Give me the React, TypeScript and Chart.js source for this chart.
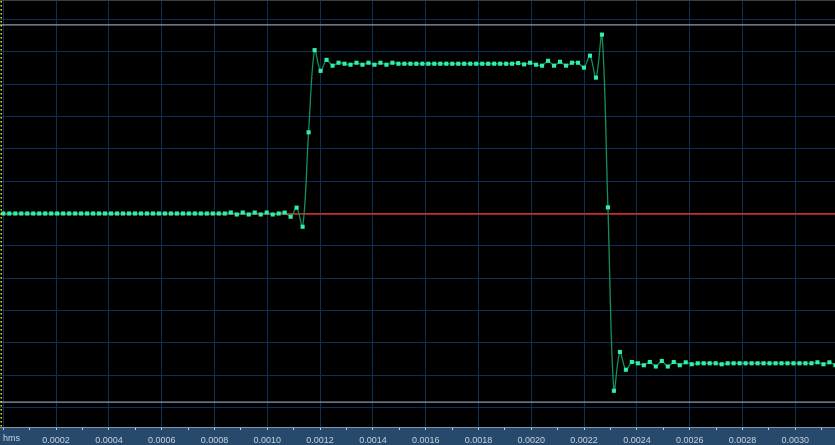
import { useEffect, useRef } from 'react';
import { Chart, registerables } from 'chart.js';

Chart.register(...registerables);

// Audio samples (44.1 kHz), amplitude in grid divisions
const SAMPLE_RATE = 44100;
const samples: number[] = [
  0, 0, 0, 0, 0, 0, 0, 0, 0, 0,
  0, 0, 0, 0, 0, 0, 0, 0, 0, 0,
  0, 0, 0, 0, 0, 0, 0, 0, 0, 0,
  0, 0, 0, 0, 0, 0, 0, 0,
  0.03, -0.03, 0.03, -0.03, 0.03, -0.03, 0.03, -0.03, 0, 0.03,
  -0.10, 0.18, -0.41, 2.51, 5.05, 4.41, 4.75, 4.57, 4.66, 4.63,
  4.60, 4.66, 4.60, 4.66, 4.60, 4.66, 4.60, 4.66,
  4.63, 4.63, 4.63, 4.63, 4.63, 4.63, 4.63, 4.63, 4.63, 4.63,
  4.63, 4.63, 4.63, 4.63, 4.63, 4.63, 4.63, 4.63, 4.63, 4.63,
  4.65, 4.61, 4.66, 4.60,
  4.57, 4.72, 4.57, 4.69, 4.57, 4.66, 4.66, 4.51, 4.88, 4.20, 5.53, 0.19,
  -5.48, -4.28, -4.83, -4.59, -4.63, -4.69, -4.59, -4.73, -4.56, -4.73, -4.59, -4.69, -4.60, -4.66,
  -4.63, -4.63, -4.63, -4.63,
  -4.66,
  -4.63, -4.63, -4.63, -4.63, -4.63, -4.63, -4.63, -4.63, -4.63, -4.63,
  -4.63, -4.63, -4.63, -4.63, -4.63,
  -4.60, -4.66, -4.60, -4.69,
];

const clipLevels = [5.83, -5.83];
const xMin = -0.0000125;
const xMax = 0.0031504;
const yMin = -6.6;
const yMax = 6.6;
const xTickValues = [
  0, 0.0001, 0.0002, 0.0003, 0.0004, 0.0005, 0.0006, 0.0007, 0.0008, 0.0009,
  0.0010, 0.0011, 0.0012, 0.0013, 0.0014, 0.0015, 0.0016, 0.0017, 0.0018, 0.0019,
  0.0020, 0.0021, 0.0022, 0.0023, 0.0024, 0.0025, 0.0026, 0.0027, 0.0028, 0.0029,
  0.0030, 0.0031,
];
const yGridValues = [-6, -5, -4, -3, -2, -1, 0, 1, 2, 3, 4, 5, 6];
const axisUnitLabel = 'hms';

const GRID = '#0d3154';
const FONT = 'Liberation Sans, Arial, sans-serif';

const isMajor = (v: number) => Math.round(v / 0.0001) % 2 === 0;

const scopePlugin = {
  id: 'scope',
  beforeDraw(chart: any) {
    const { ctx, width, height, chartArea } = chart;
    ctx.save();
    ctx.fillStyle = '#000';
    ctx.fillRect(0, 0, width, height);
    ctx.fillStyle = '#27496b';
    ctx.fillRect(0, chartArea.bottom, width, height - chartArea.bottom);
    ctx.restore();
  },
  afterDraw(chart: any) {
    const { ctx, width, chartArea } = chart;
    ctx.save();
    ctx.fillStyle = '#3e3e3e';
    ctx.fillRect(0, 0, width, 1);
    ctx.strokeStyle = '#e8e800';
    ctx.lineWidth = 1.5;
    ctx.setLineDash([1.5, 2.5]);
    ctx.beginPath();
    ctx.moveTo(1.25, 1);
    ctx.lineTo(1.25, chartArea.bottom);
    ctx.stroke();
    ctx.setLineDash([]);
    ctx.fillStyle = '#c5d3e0';
    ctx.font = `9px ${FONT}`;
    ctx.textAlign = 'left';
    ctx.textBaseline = 'middle';
    ctx.fillText(axisUnitLabel, 3, chartArea.bottom + 12);
    ctx.restore();
  },
};

export default function App() {
  const ref = useRef<HTMLCanvasElement>(null);

  useEffect(() => {
    document.body.style.margin = '0';
    const canvas = ref.current;
    if (!canvas) return;
    const signal = samples.map((y, n) => ({ x: n / SAMPLE_RATE, y }));
    const chart = new Chart(canvas, {
      type: 'line',
      data: {
        datasets: [
          {
            data: signal,
            borderColor: '#139058',
            borderWidth: 1.3,
            tension: 0.35,
            pointStyle: 'rect',
            pointRadius: 2.9,
            pointBorderWidth: 0,
            pointBackgroundColor: '#30efa8',
            pointBorderColor: '#30efa8',
          },
          ...clipLevels.map((lvl) => ({
            data: [
              { x: xMin, y: lvl },
              { x: xMax, y: lvl },
            ],
            borderColor: '#8d9cae',
            borderWidth: 1.4,
            pointRadius: 0,
            tension: 0,
          })),
        ],
      },
      options: {
        responsive: false,
        animation: false,
        devicePixelRatio: 1,
        layout: { padding: 0, autoPadding: false },
        plugins: { legend: { display: false }, tooltip: { enabled: false } },
        scales: {
          x: {
            type: 'linear',
            min: xMin,
            max: xMax,
            afterBuildTicks: (s: any) => {
              s.ticks = xTickValues.map((v) => ({ value: v }));
            },
            afterFit: (s: any) => {
              s.height = 18;
              s.paddingLeft = 0;
              s.paddingRight = 0;
            },
            grid: {
              color: (c: any) => (c.tick && isMajor(c.tick.value) ? GRID : 'rgba(0,0,0,0)'),
              lineWidth: 1,
              drawTicks: true,
              tickLength: 3,
              tickColor: '#c8d2dc',
              tickWidth: 1,
            },
            border: { display: true, color: '#8796a8', width: 1 },
            ticks: {
              autoSkip: false,
              maxRotation: 0,
              minRotation: 0,
              padding: 5,
              color: '#c5d3e0',
              font: { family: FONT, size: 9 },
              callback: (v: any) => {
                const val = Number(v);
                if (val === 0 || !isMajor(val)) return '';
                return val.toFixed(4);
              },
            },
          },
          y: {
            type: 'linear',
            min: yMin,
            max: yMax,
            afterBuildTicks: (s: any) => {
              s.ticks = yGridValues.map((v) => ({ value: v }));
            },
            afterFit: (s: any) => {
              s.width = 0;
            },
            ticks: { display: false },
            grid: {
              color: (c: any) => (c.tick && c.tick.value === 0 ? '#c3302c' : GRID),
              lineWidth: (c: any) => (c.tick && c.tick.value === 0 ? 1.8 : 1),
              drawTicks: false,
            },
            border: { display: false },
          },
        },
      },
      plugins: [scopePlugin],
    } as any);
    return () => chart.destroy();
  }, []);

  return (
    <div style={{ position: 'fixed', left: 0, top: 0, width: 835, height: 445 }}>
      <canvas ref={ref} width={835} height={445} style={{ display: 'block', width: 835, height: 445 }} />
    </div>
  );
}
